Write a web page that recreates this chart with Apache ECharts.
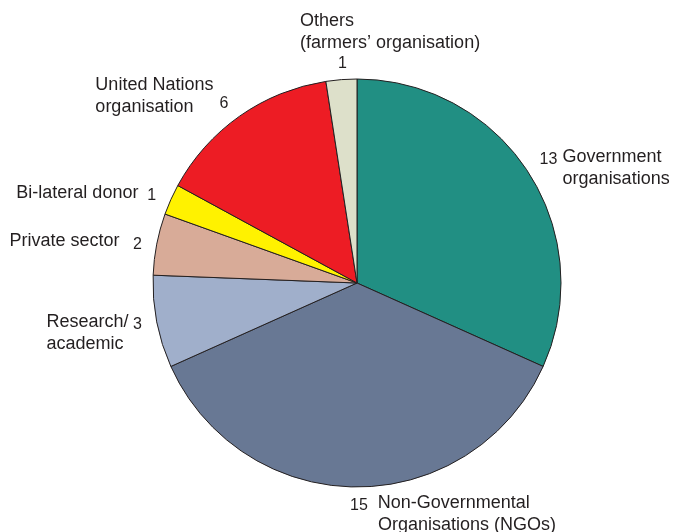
<!DOCTYPE html>
<html>
<head>
<meta charset="utf-8">
<script src="https://cdn.jsdelivr.net/npm/echarts@6/dist/echarts.min.js"></script>
<style>
    html, body { margin: 0; padding: 0; background: #fff; }
    #chart { width: 673px; height: 532px; }
</style>
</head>
<body>
<div id="chart"></div>
<script>
// data, clockwise from 12 o'clock
const categories = [
    'Government organisations',
    'Non-Governmental Organisations (NGOs)',
    'Research/ academic',
    'Private sector',
    'Bi-lateral donor',
    'United Nations organisation',
    'Others (farmers\u2019 organisation)',
]
const counts = [13, 15, 3, 2, 1, 6, 1]
const sliceColors = ['#218f83', '#687894', '#a0afcb', '#d8ab98', '#fff200', '#ed1c24', '#dde0ca']

// label text templates ({c} = value)
const labelTemplates = [
    '{vg|{c}}{n|Government}\n{gi|organisations}',
    '{v|{c}}{n|  Non-Governmental}\n{ni|Organisations (NGOs)}',
    '{n|Research/}{v| {c}}\n{n|academic}',
    '{n|Private sector}{v|   {c}}',
    '{n|Bi-lateral donor}{v|  {c}}',
    '{n|United Nations}\n{n|organisation}{vt|{c}}',
    '{n|Others}\n{n|(farmers\u2019 organisation)}\n{oi|{c}}',
]
// label nudges [dx, dy, align]
const labelShift = [
    [3, -2, null],
    [-12, 23, null],
    [-6, 10, null],
    [-6, -2, null],
    [-6, -5, null],
    [-4, -17, null],
    [-36, -34, 'left'],
]

const textColor = '#231f20'
const chart = echarts.init(document.getElementById('chart'))

const seriesData = counts.map((value, i) => ({
    name: categories[i],
    value,
    itemStyle: { color: sliceColors[i] },
    label: {
        formatter: (p) => labelTemplates[i].replace('{c}', p.value),
    },
}))

chart.setOption({
    animation: false,
    series: [
        {
            type: 'pie',
            center: [357, 283],
            radius: 204,
            startAngle: 90,
            clockwise: true,
            avoidLabelOverlap: false,
            silent: true,
            data: seriesData,
            itemStyle: {
                borderColor: '#231f20',
                borderWidth: 1,
            },
            label: {
                show: true,
                position: 'outside',
                alignTo: 'none',
                color: textColor,
                fontFamily: 'Liberation Sans, Arial, sans-serif',
                lineHeight: 22,
                rich: {
                    n: { fontSize: 18, lineHeight: 22, color: textColor, align: 'left' },
                    gi: { fontSize: 18, lineHeight: 22, color: textColor, align: 'left', padding: [0, 0, 0, 23] },
                    ni: { fontSize: 18, lineHeight: 22, color: textColor, align: 'left', padding: [0, 0, 0, 28] },
                    v: { fontSize: 16, lineHeight: 22, color: textColor, verticalAlign: 'bottom' },
                    vg: { fontSize: 16, lineHeight: 22, color: textColor, verticalAlign: 'bottom', padding: [0, 5, 0, 0] },
                    vt: { fontSize: 16, lineHeight: 22, color: textColor, align: 'right', verticalAlign: 'top', padding: [0, 0, 0, 26] },
                    oi: { fontSize: 16, lineHeight: 20, color: textColor, align: 'left', padding: [0, 0, 0, 38] },
                },
            },
            labelLine: {
                show: false,
                length: 4,
                length2: 0,
            },
            labelLayout: (params) => {
                const s = labelShift[params.dataIndex]
                const out = { dx: s[0], dy: s[1] }
                if (s[2]) {
                    out.align = s[2]
                }
                return out
            },
            emphasis: { disabled: true },
        },
    ],
})
</script>
</body>
</html>
